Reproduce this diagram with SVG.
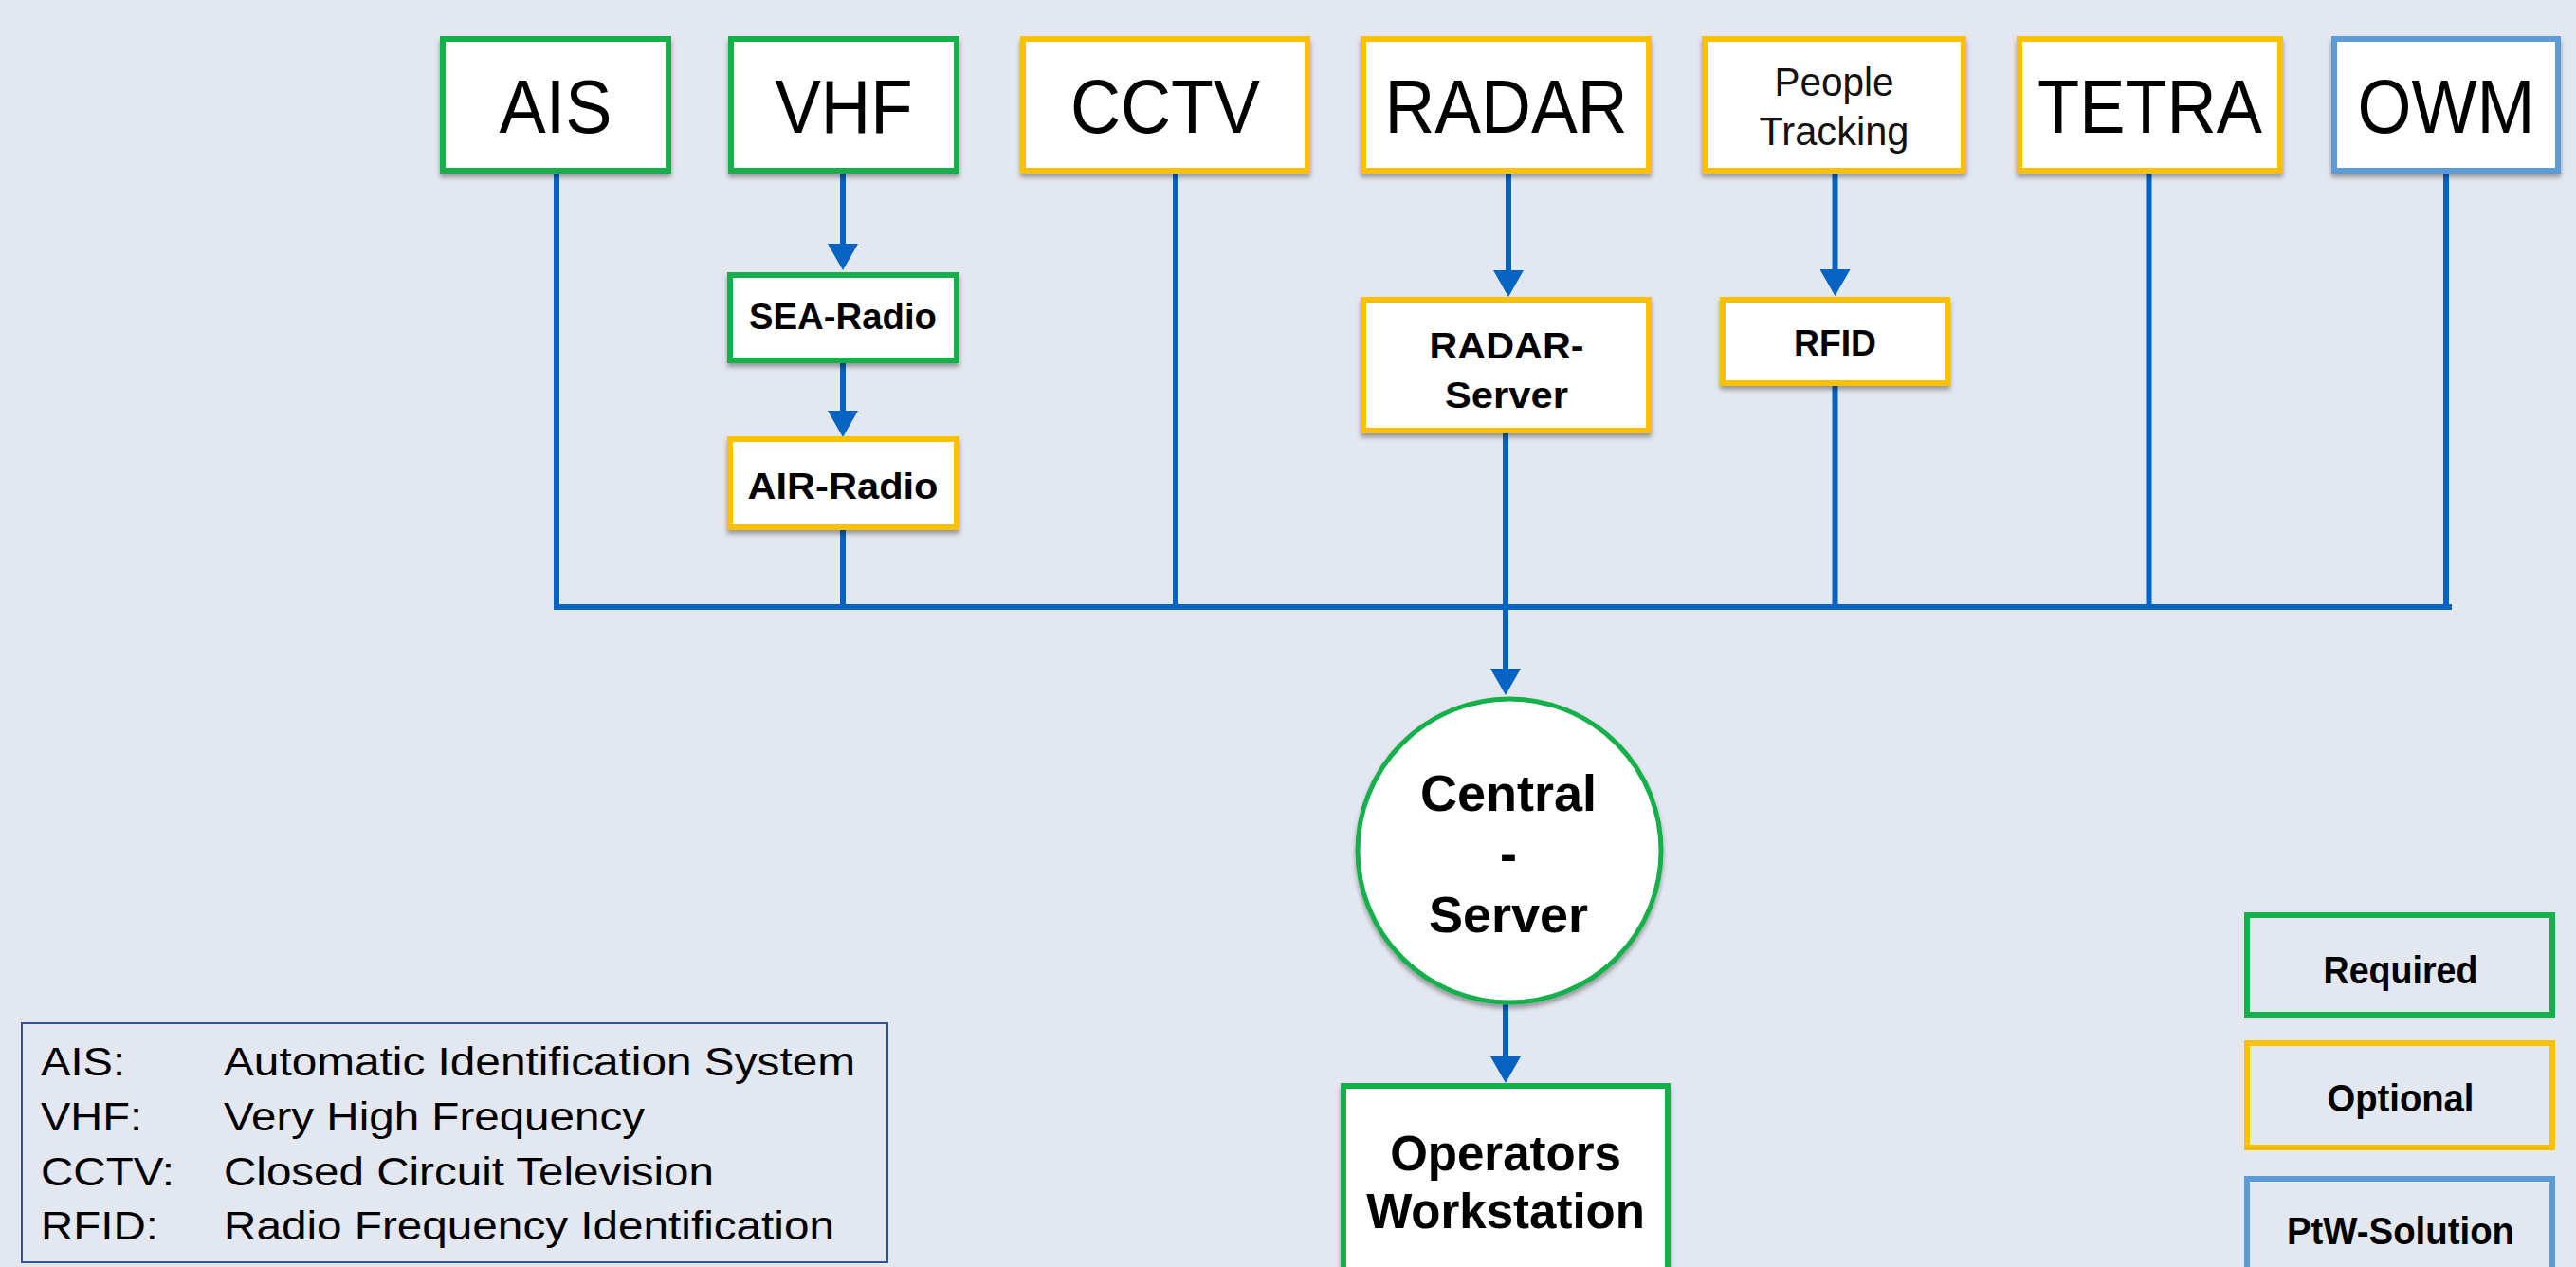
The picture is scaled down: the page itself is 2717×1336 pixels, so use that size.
<svg xmlns="http://www.w3.org/2000/svg" width="2717" height="1336" viewBox="0 0 2717 1336">
<style>
.bg{fill:#e3e7ef}
.g{stroke:#14b04c}
.y{stroke:#ffc000}
.b{stroke:#5b9bd5}
.box{fill:#ffffff;stroke-width:6;filter:url(#sh)}
.leg{fill:none;stroke-width:6}
.big{font-family:"Liberation Sans",Arial,sans-serif;font-size:79px;fill:#000;text-anchor:middle}
.pt{font-family:"Liberation Sans",Arial,sans-serif;font-size:42px;fill:#111;text-anchor:middle}
.sub{font-family:"Liberation Sans",Arial,sans-serif;font-weight:bold;font-size:39px;fill:#000;text-anchor:middle}
.cen{font-family:"Liberation Sans",Arial,sans-serif;font-weight:bold;font-size:54px;fill:#000;text-anchor:middle}
.ops{font-family:"Liberation Sans",Arial,sans-serif;font-weight:bold;font-size:51px;fill:#000;text-anchor:middle}
.lg{font-family:"Liberation Sans",Arial,sans-serif;font-weight:bold;font-size:40px;fill:#000;text-anchor:middle}
.abbr{font-family:"Liberation Sans",Arial,sans-serif;font-size:43px;fill:#000}
.con{stroke:#0563c1;stroke-width:6;fill:none}
</style>
<defs>
<filter id="sh" x="-10%" y="-10%" width="120%" height="130%">
<feDropShadow dx="0" dy="4" stdDeviation="2.5" flood-color="#000" flood-opacity="0.35"/>
</filter>
<marker id="arr" markerUnits="userSpaceOnUse" markerWidth="28" markerHeight="32" refX="0" refY="16" orient="auto">
<path d="M0,0 L28,16 L0,32 Z" fill="#0563c1"/>
</marker>
</defs>
<rect class="bg" x="0" y="0" width="2717" height="1336"/>

<g id="connectors">
<line class="con" x1="587" y1="183" x2="587" y2="640"/>
<line class="con" x1="889" y1="183" x2="889" y2="257" marker-end="url(#arr)"/>
<line class="con" x1="889" y1="383" x2="889" y2="433" marker-end="url(#arr)"/>
<line class="con" x1="889" y1="559" x2="889" y2="640"/>
<line class="con" x1="1240" y1="183" x2="1240" y2="640"/>
<line class="con" x1="1591" y1="183" x2="1591" y2="285" marker-end="url(#arr)"/>
<line class="con" x1="1588" y1="457" x2="1588" y2="640"/>
<line class="con" x1="1935.5" y1="183" x2="1935.5" y2="284" marker-end="url(#arr)"/>
<line class="con" x1="1935.5" y1="407" x2="1935.5" y2="640"/>
<line class="con" x1="2266.5" y1="183" x2="2266.5" y2="640"/>
<line class="con" x1="2580" y1="183" x2="2580" y2="640"/>
<line class="con" x1="584" y1="640" x2="2586" y2="640"/>
<line class="con" x1="1588" y1="640" x2="1588" y2="705" marker-end="url(#arr)"/>
<line class="con" x1="1588" y1="1059" x2="1588" y2="1114" marker-end="url(#arr)"/>
</g>

<g id="ais"><rect class="box g" x="467" y="41" width="238" height="139"/><text class="big" x="586" y="140" textLength="119" lengthAdjust="spacingAndGlyphs">AIS</text></g>
<g id="vhf"><rect class="box g" x="771" y="41" width="238" height="139"/><text class="big" x="890" y="140" textLength="145" lengthAdjust="spacingAndGlyphs">VHF</text></g>
<g id="cctv"><rect class="box y" x="1079" y="41" width="300" height="139"/><text class="big" x="1229" y="140" textLength="200" lengthAdjust="spacingAndGlyphs">CCTV</text></g>
<g id="radar"><rect class="box y" x="1438" y="41" width="301" height="139"/><text class="big" x="1588.5" y="140" textLength="256" lengthAdjust="spacingAndGlyphs">RADAR</text></g>
<g id="people"><rect class="box y" x="1798" y="41" width="273" height="139"/><text class="pt" x="1934.5" y="101" textLength="126" lengthAdjust="spacingAndGlyphs">People</text><text class="pt" x="1934.5" y="153" textLength="158" lengthAdjust="spacingAndGlyphs">Tracking</text></g>
<g id="tetra"><rect class="box y" x="2130" y="41" width="275" height="139"/><text class="big" x="2267.5" y="140" textLength="237" lengthAdjust="spacingAndGlyphs">TETRA</text></g>
<g id="owm"><rect class="box b" x="2462" y="41" width="236" height="139"/><text class="big" x="2580" y="140" textLength="187" lengthAdjust="spacingAndGlyphs">OWM</text></g>

<g id="sea-radio"><rect class="box g" x="770" y="290" width="239" height="90"/><text class="sub" x="889" y="347" textLength="198" lengthAdjust="spacingAndGlyphs">SEA-Radio</text></g>
<g id="air-radio"><rect class="box y" x="770" y="463" width="239" height="93"/><text class="sub" x="889" y="526" textLength="201" lengthAdjust="spacingAndGlyphs">AIR-Radio</text></g>
<g id="radar-server"><rect class="box y" x="1438" y="316" width="301" height="138"/><text class="sub" x="1589" y="378" textLength="163" lengthAdjust="spacingAndGlyphs">RADAR-</text><text class="sub" x="1589" y="430" textLength="130" lengthAdjust="spacingAndGlyphs">Server</text></g>
<g id="rfid"><rect class="box y" x="1817" y="316" width="237" height="88"/><text class="sub" x="1935.5" y="375" textLength="87" lengthAdjust="spacingAndGlyphs">RFID</text></g>

<g id="central-server"><circle cx="1592" cy="897" r="160" fill="#ffffff" stroke="#14b04c" stroke-width="5" filter="url(#sh)"/><text class="cen" x="1591" y="855">Central</text><text class="cen" x="1591" y="919">-</text><text class="cen" x="1591" y="983">Server</text></g>

<g id="operators-workstation"><rect class="box g" x="1417" y="1145" width="342" height="230"/><text class="ops" x="1588" y="1234">Operators</text><text class="ops" x="1588" y="1295">Workstation</text></g>

<g id="abbreviations">
<rect x="23" y="1079" width="913" height="252" fill="none" stroke="#2f5597" stroke-width="2"/>
<text class="abbr" x="43" y="1134" textLength="89" lengthAdjust="spacingAndGlyphs">AIS:</text>
<text class="abbr" x="236" y="1134" textLength="666" lengthAdjust="spacingAndGlyphs">Automatic Identification System</text>
<text class="abbr" x="43" y="1192" textLength="107" lengthAdjust="spacingAndGlyphs">VHF:</text>
<text class="abbr" x="236" y="1192" textLength="444" lengthAdjust="spacingAndGlyphs">Very High Frequency</text>
<text class="abbr" x="43" y="1250" textLength="141" lengthAdjust="spacingAndGlyphs">CCTV:</text>
<text class="abbr" x="236" y="1250" textLength="517" lengthAdjust="spacingAndGlyphs">Closed Circuit Television</text>
<text class="abbr" x="43" y="1307" textLength="124" lengthAdjust="spacingAndGlyphs">RFID:</text>
<text class="abbr" x="236" y="1307" textLength="644" lengthAdjust="spacingAndGlyphs">Radio Frequency Identification</text>
</g>

<g id="legend-required"><rect class="leg g" x="2370" y="965" width="322" height="105"/><text class="lg" x="2532" y="1037" textLength="163" lengthAdjust="spacingAndGlyphs">Required</text></g>
<g id="legend-optional"><rect class="leg y" x="2370" y="1100" width="322" height="110"/><text class="lg" x="2532" y="1172" textLength="155" lengthAdjust="spacingAndGlyphs">Optional</text></g>
<g id="legend-ptw"><rect class="leg b" x="2370" y="1243" width="322" height="130"/><text class="lg" x="2532" y="1312" textLength="240" lengthAdjust="spacingAndGlyphs">PtW-Solution</text></g>
</svg>
